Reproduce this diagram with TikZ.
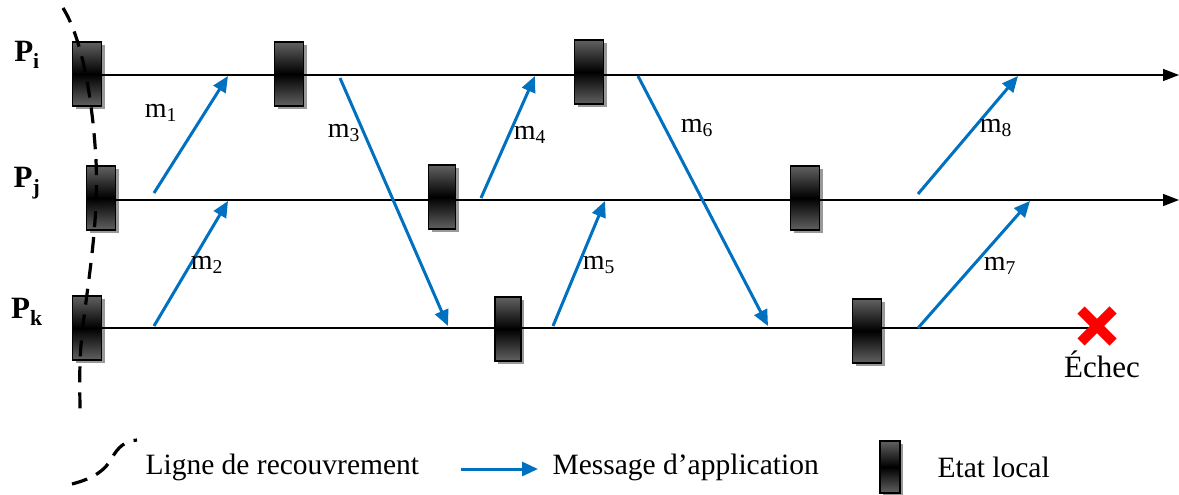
\documentclass[tikz,border=0pt]{standalone}
\usepackage{fontspec}
\setmainfont{Liberation Serif}
\usetikzlibrary{arrows.meta}
\definecolor{msgblue}{HTML}{0070C0}
\tikzset{
  etat/.style={rectangle, draw=black, line width=1.8pt, inner sep=0pt,
    minimum width=#1, minimum height=64pt,
    preaction={fill=black!40, transform canvas={shift={(3pt,-3pt)}}},
    path picture={\shade[top color=black!62, bottom color=black!62, middle color=black]
      (path picture bounding box.south west) rectangle (path picture bounding box.north east);}},
  etat/.default=29pt,
  proc/.style={line width=1.6pt},
  procend/.style={line width=1.6pt, -{Triangle[length=16pt,width=12pt]}},
  msg/.style={draw=msgblue, line width=3pt, -{Triangle[length=16pt,width=14pt]}},
  rec/.style={line width=3.2pt, dash pattern=on 16pt off 10pt},
  plabel/.style={font=\fontsize{31}{33}\selectfont\bfseries, anchor=center},
  mlabel/.style={font=\fontsize{28}{30}\selectfont, anchor=center},
  legtext/.style={font=\fontsize{29.5}{31}\selectfont, anchor=west}
}
\begin{document}
\begin{tikzpicture}[x=1pt,y=-1pt]
\useasboundingbox (0,0) rectangle (1179,495);

% process labels
\node[plabel] (Pi) at (27,55) {P\textsubscript{i}};
\node[plabel] (Pj) at (27,183) {P\textsubscript{j}};
\node[plabel] (Pk) at (27,312) {P\textsubscript{k}};

% local states
\node[etat] (i1) at (87,74) {};
\node[etat] (i2) at (289,74) {};
\node[etat] (i3) at (589,72) {};
\node[etat] (j1) at (101,198) {};
\node[etat=27pt] (j2) at (442,197) {};
\node[etat] (j3) at (805,198) {};
\node[etat] (k1) at (87,328) {};
\node[etat=26pt] (k2) at (508,329) {};
\node[etat] (k3) at (867,331) {};

% end points of the time lines
\coordinate (iend) at (1179,75);
\coordinate (jend) at (1179,200);
\coordinate (kend) at (1095,328);

% time lines
\draw[proc] (i1.east |- 0,75) -- (i2.west |- 0,75);
\draw[proc] (i2.east |- 0,75) -- (i3.west |- 0,75);
\draw[procend] (i3.east |- 0,75) -- (iend);
\draw[proc] (j1.east |- 0,200) -- (j2.west |- 0,200);
\draw[proc] (j2.east |- 0,200) -- (j3.west |- 0,200);
\draw[procend] (j3.east |- 0,200) -- (jend);
\draw[proc] (k1.east |- 0,328) -- (k2.west |- 0,328);
\draw[proc] (k2.east |- 0,328) -- (k3.west |- 0,328);
\draw[proc] (k3.east |- 0,328) -- (kend);

% messages
\coordinate (m1s) at (154,193);  \coordinate (m1e) at (228,76);
\coordinate (m2s) at (154,326);  \coordinate (m2e) at (228,201);
\coordinate (m3s) at (340,78);   \coordinate (m3e) at (448,326);
\coordinate (m4s) at (481,198);  \coordinate (m4e) at (535,76);
\coordinate (m5s) at (553,326);  \coordinate (m5e) at (605,201);
\coordinate (m6s) at (638,76);   \coordinate (m6e) at (768,326);
\coordinate (m7s) at (918,328);  \coordinate (m7e) at (1030,201);
\coordinate (m8s) at (918,194);  \coordinate (m8e) at (1018,76);
\foreach \m in {1,...,8} \draw[msg] (m\m s) -- (m\m e);

\node[mlabel] (l1) at (161,113) {m\textsubscript{1}};
\node[mlabel] (l2) at (207,265) {m\textsubscript{2}};
\node[mlabel] (l3) at (344,133) {m\textsubscript{3}};
\node[mlabel] (l4) at (530,135) {m\textsubscript{4}};
\node[mlabel] (l5) at (599,265) {m\textsubscript{5}};
\node[mlabel] (l6) at (697,128) {m\textsubscript{6}};
\node[mlabel] (l7) at (1000,266) {m\textsubscript{7}};
\node[mlabel] (l8) at (996,128) {m\textsubscript{8}};

% failure of P_k
\coordinate (fail) at (1097,326);
\draw[red, line width=10pt] ([shift={(-16,-16)}]fail) -- ([shift={(16,16)}]fail);
\draw[red, line width=10pt] ([shift={(-16,16)}]fail) -- ([shift={(16,-16)}]fail);
\node[mlabel, font=\fontsize{31}{33}\selectfont] (echec) at (1102,364) {Échec};

% recovery line
\draw[rec] (63,8) .. controls (80,35) and (92,90) .. (96,160)
  .. controls (99,230) and (86,290) .. (81,345)
  .. controls (79,370) and (80,395) .. (80,412);

% legend
\draw[rec] (72,484) .. controls (95,478) and (105,470) .. (112,458)
  .. controls (118,447) and (125,441) .. (137,440);
\node[legtext] (lrec) at (142,467) {Ligne de recouvrement};
\coordinate (lms) at (461,469);
\coordinate (lme) at (538,469);
\draw[msg] (lms) -- (lme);
\node[legtext] (lmsg) at (549,467) {Message d’application};
\node[etat=20pt, minimum height=52pt] (lbox) at (890,467) {};
\node[legtext] (lloc) at (934,467) {Etat local};
\end{tikzpicture}
\end{document}
